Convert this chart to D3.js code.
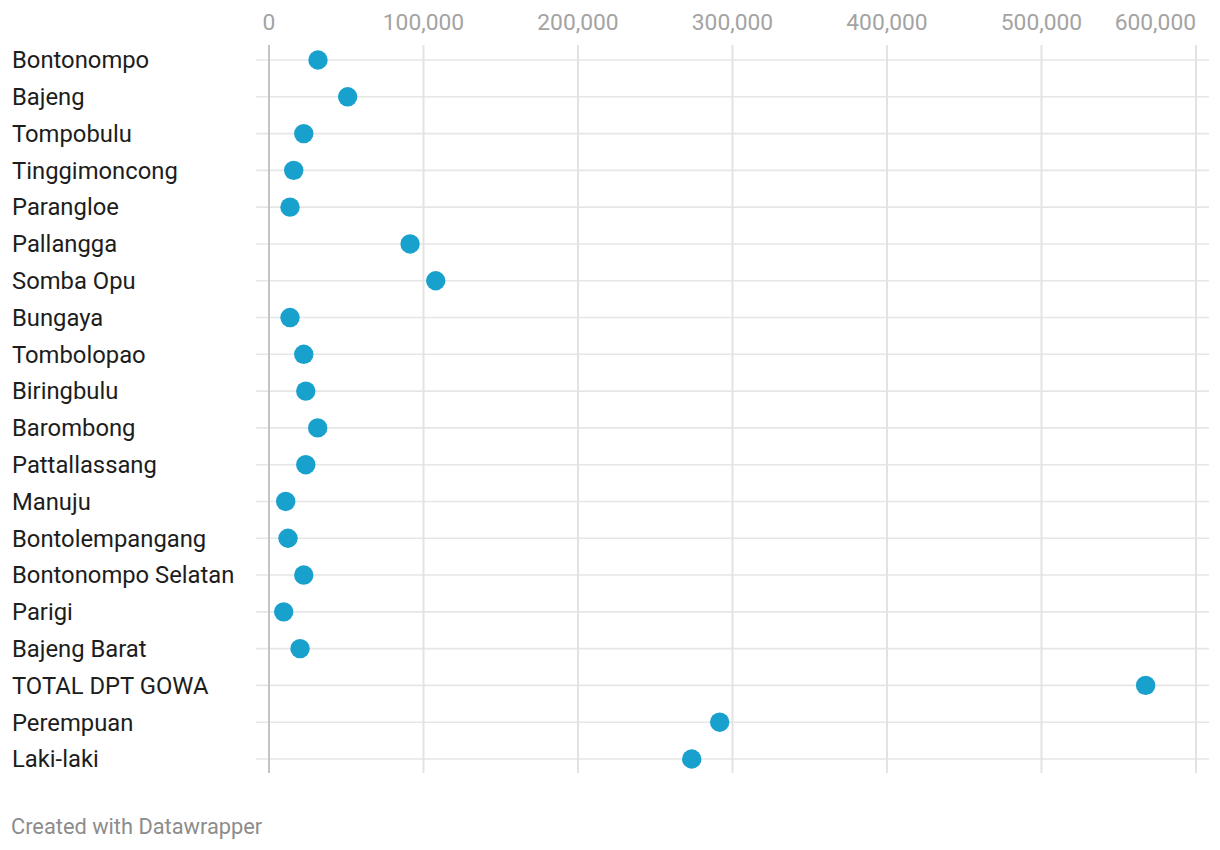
<!DOCTYPE html>
<html>
<head>
<meta charset="utf-8">
<script src="https://cdn.jsdelivr.net/npm/d3@7"></script>
<style>
  html, body { margin: 0; padding: 0; background: #fff; }
  svg { display: block; font-family: Roboto, "Noto Sans", sans-serif; }
</style>
</head>
<body>
<svg id="chart" width="1220" height="850"></svg>
<script>
const categories = ["Bontonompo","Bajeng","Tompobulu","Tinggimoncong","Parangloe","Pallangga","Somba Opu","Bungaya","Tombolopao","Biringbulu","Barombong","Pattallassang","Manuju","Bontolempangang","Bontonompo Selatan","Parigi","Bajeng Barat","TOTAL DPT GOWA","Perempuan","Laki-laki"];
const values = [31700, 50900, 22500, 16000, 13600, 91300, 107900, 13600, 22500, 23800, 31500, 23800, 10800, 12300, 22500, 9500, 20100, 567400, 291700, 273600];
const tickValues = [0, 100000, 200000, 300000, 400000, 500000, 600000];
const footerText = "Created with Datawrapper";

const svg = d3.select("#chart");
const x = d3.scaleLinear().domain([0, 600000]).range([269, 1196]);
const y = d3.scalePoint().domain(categories).range([60, 759]);
const fmt = d3.format(",");

// horizontal row lines
svg.append("g").selectAll("line").data(categories).join("line")
  .attr("x1", 256).attr("x2", 1209)
  .attr("y1", d => y(d)).attr("y2", d => y(d))
  .attr("stroke", "#e6e6e6").attr("stroke-width", 1.6);

// vertical gridlines
svg.append("g").selectAll("line").data(tickValues).join("line")
  .attr("x1", d => x(d)).attr("x2", d => x(d))
  .attr("y1", 45).attr("y2", 773)
  .attr("stroke", d => d === 0 ? "#c4c4c4" : "#e3e3e3")
  .attr("stroke-width", 2);

// tick labels
svg.append("g").selectAll("text").data(tickValues).join("text")
  .attr("x", d => x(d))
  .attr("y", 30)
  .attr("text-anchor", (d, i) => i === tickValues.length - 1 ? "end" : "middle")
  .attr("font-size", 22.8)
  .attr("fill", "#a3a3a3")
  .text(d => fmt(d));

// row labels
svg.append("g").selectAll("text").data(categories).join("text")
  .attr("x", 12).attr("y", d => y(d))
  .attr("dy", "0.35em")
  .attr("font-size", 23.8)
  .attr("fill", "#1d1d1d")
  .text(d => d);

// dots
svg.append("g").selectAll("circle").data(values).join("circle")
  .attr("cx", d => x(d))
  .attr("cy", (d, i) => y(categories[i]))
  .attr("r", 9.7)
  .attr("fill", "#18a1cd");

// footer
svg.append("text").attr("x", 11).attr("y", 834)
  .attr("font-size", 21.8).attr("fill", "#8c8c8c")
  .text(footerText);
</script>
</body>
</html>
